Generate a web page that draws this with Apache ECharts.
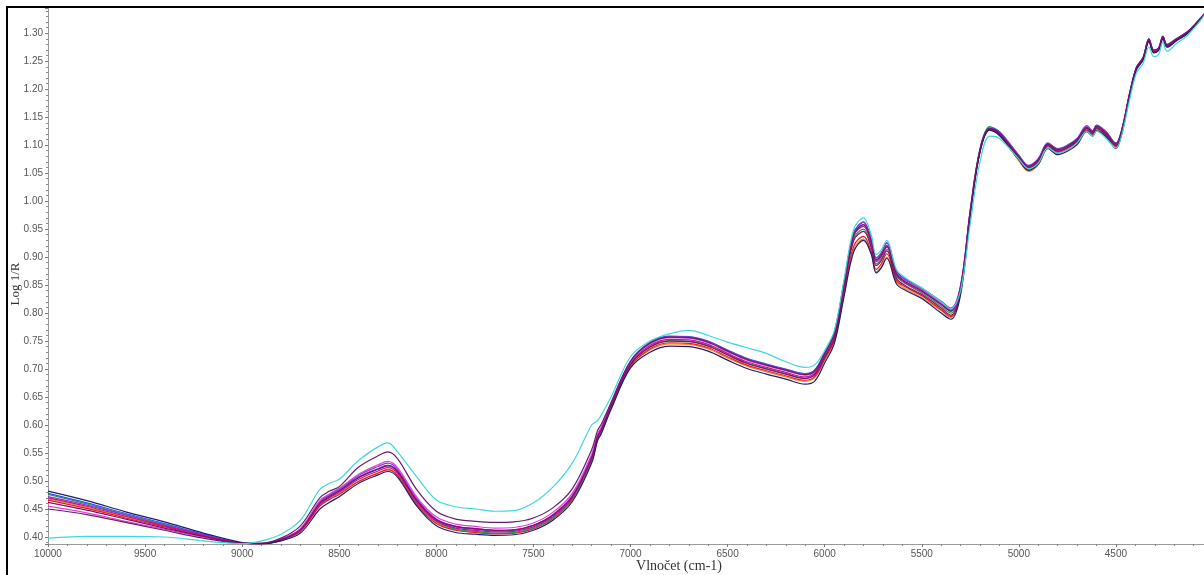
<!DOCTYPE html>
<html>
<head>
<meta charset="utf-8">
<script src="https://cdn.jsdelivr.net/npm/echarts@6/dist/echarts.min.js"></script>
<style>
  html, body { margin: 0; padding: 0; background: #fff; }
  #chart { width: 1204px; height: 575px; }
</style>
</head>
<body>
<div id="chart"></div>
<script>
// vlnočty (cm-1), stejné pro všechna spektra
var wavenumbers = [
    10000, 9800, 9600, 9400, 9200, 9000, 8900, 8800, 8700, 8600,
    8550, 8500, 8400, 8300, 8250, 8200, 8100, 8000, 7900, 7800,
    7700, 7600, 7500, 7400, 7300, 7200, 7170, 7150, 7100, 7000,
    6900, 6800, 6700, 6600, 6500, 6400, 6300, 6200, 6100, 6050,
    6000, 5950, 5900, 5850, 5800, 5760, 5735, 5710, 5680, 5630,
    5580, 5500, 5400, 5350, 5300, 5250, 5200, 5150, 5100, 5000,
    4950, 4900, 4850, 4800, 4750, 4700, 4650, 4620, 4600, 4550,
    4500, 4470, 4430, 4395, 4360, 4330, 4305, 4280, 4258, 4237,
    4186, 4135, 4083, 4045
];

var spCyan = [
    0.398, 0.401, 0.401, 0.400, 0.393, 0.388, 0.393, 0.405, 0.430, 0.485,
    0.496, 0.503, 0.537, 0.561, 0.568, 0.552, 0.507, 0.466, 0.454, 0.450,
    0.446, 0.447, 0.461, 0.489, 0.532, 0.600, 0.608, 0.618, 0.650, 0.722,
    0.750, 0.763, 0.769, 0.760, 0.748, 0.738, 0.728, 0.713, 0.703, 0.708,
    0.733, 0.769, 0.860, 0.950, 0.970, 0.940, 0.905, 0.912, 0.930, 0.878,
    0.862, 0.845, 0.820, 0.808, 0.840, 0.960, 1.070, 1.116, 1.112, 1.075,
    1.058, 1.068, 1.095, 1.086, 1.092, 1.104, 1.124, 1.116, 1.125, 1.112,
    1.095, 1.118, 1.180, 1.228, 1.246, 1.275, 1.258, 1.262, 1.284, 1.268,
    1.282, 1.295, 1.315, 1.332
];

var spPurple = [
    0.450, 0.440, 0.426, 0.412, 0.398, 0.389, 0.389, 0.398, 0.420, 0.470,
    0.482, 0.490, 0.525, 0.545, 0.552, 0.540, 0.484, 0.446, 0.432, 0.428,
    0.426, 0.427, 0.434, 0.452, 0.486, 0.556, 0.590, 0.602, 0.640, 0.714,
    0.746, 0.757, 0.756, 0.748, 0.732, 0.717, 0.707, 0.698, 0.690, 0.697,
    0.728, 0.764, 0.853, 0.940, 0.958, 0.928, 0.895, 0.903, 0.920, 0.870,
    0.855, 0.840, 0.816, 0.804, 0.846, 0.982, 1.092, 1.130, 1.122, 1.080,
    1.062, 1.074, 1.102, 1.092, 1.098, 1.110, 1.132, 1.124, 1.134, 1.122,
    1.102, 1.127, 1.192, 1.239, 1.257, 1.290, 1.270, 1.274, 1.295, 1.280,
    1.291, 1.302, 1.320, 1.335
];

var spNavy = [
    0.482, 0.465, 0.445, 0.427, 0.407, 0.390, 0.388, 0.393, 0.407, 0.450,
    0.462, 0.472, 0.496, 0.511, 0.517, 0.507, 0.455, 0.420, 0.408, 0.405,
    0.403, 0.404, 0.412, 0.430, 0.463, 0.532, 0.572, 0.585, 0.628, 0.702,
    0.730, 0.741, 0.740, 0.732, 0.716, 0.701, 0.691, 0.682, 0.673, 0.679,
    0.711, 0.746, 0.830, 0.910, 0.930, 0.905, 0.872, 0.880, 0.898, 0.852,
    0.840, 0.826, 0.800, 0.789, 0.833, 0.975, 1.088, 1.127, 1.117, 1.074,
    1.055, 1.066, 1.094, 1.083, 1.089, 1.101, 1.124, 1.116, 1.126, 1.115,
    1.094, 1.120, 1.186, 1.234, 1.252, 1.285, 1.265, 1.269, 1.290, 1.275,
    1.287, 1.298, 1.317, 1.333
];

var spMagenta = [
    0.470, 0.455, 0.437, 0.420, 0.403, 0.389, 0.388, 0.395, 0.412, 0.458,
    0.470, 0.480, 0.503, 0.518, 0.524, 0.514, 0.462, 0.428, 0.416, 0.412,
    0.409, 0.410, 0.418, 0.436, 0.470, 0.540, 0.578, 0.592, 0.635, 0.710,
    0.742, 0.753, 0.752, 0.744, 0.728, 0.713, 0.703, 0.694, 0.686, 0.693,
    0.726, 0.762, 0.850, 0.938, 0.955, 0.925, 0.892, 0.900, 0.918, 0.868,
    0.853, 0.838, 0.815, 0.803, 0.845, 0.980, 1.090, 1.128, 1.120, 1.078,
    1.060, 1.072, 1.100, 1.090, 1.096, 1.108, 1.130, 1.122, 1.132, 1.120,
    1.100, 1.125, 1.190, 1.237, 1.255, 1.288, 1.268, 1.272, 1.293, 1.278,
    1.289, 1.300, 1.318, 1.333
];

var spBlue = [
    0.478, 0.461, 0.442, 0.424, 0.405, 0.389, 0.388, 0.396, 0.414, 0.462,
    0.474, 0.484, 0.507, 0.522, 0.528, 0.518, 0.466, 0.431, 0.418, 0.414,
    0.411, 0.412, 0.420, 0.439, 0.473, 0.543, 0.580, 0.594, 0.638, 0.714,
    0.748, 0.759, 0.758, 0.750, 0.734, 0.719, 0.709, 0.700, 0.692, 0.699,
    0.730, 0.766, 0.855, 0.942, 0.962, 0.932, 0.898, 0.906, 0.925, 0.875,
    0.860, 0.845, 0.821, 0.809, 0.850, 0.984, 1.092, 1.131, 1.124, 1.082,
    1.064, 1.076, 1.104, 1.094, 1.100, 1.112, 1.135, 1.126, 1.136, 1.124,
    1.104, 1.128, 1.192, 1.238, 1.256, 1.290, 1.270, 1.273, 1.294, 1.279,
    1.290, 1.301, 1.319, 1.334
];

var spGreen = [
    0.476, 0.459, 0.440, 0.422, 0.404, 0.389, 0.388, 0.395, 0.413, 0.462,
    0.474, 0.484, 0.507, 0.522, 0.528, 0.517, 0.464, 0.428, 0.414, 0.410,
    0.407, 0.408, 0.416, 0.434, 0.468, 0.538, 0.576, 0.590, 0.633, 0.708,
    0.740, 0.751, 0.750, 0.742, 0.726, 0.711, 0.701, 0.692, 0.684, 0.691,
    0.723, 0.759, 0.848, 0.934, 0.950, 0.920, 0.888, 0.896, 0.914, 0.866,
    0.852, 0.836, 0.812, 0.800, 0.843, 0.985, 1.094, 1.133, 1.124, 1.081,
    1.062, 1.073, 1.101, 1.090, 1.096, 1.107, 1.129, 1.121, 1.131, 1.119,
    1.099, 1.124, 1.189, 1.236, 1.254, 1.287, 1.267, 1.271, 1.292, 1.277,
    1.288, 1.299, 1.318, 1.333
];

var spRed = [
    0.466, 0.451, 0.434, 0.418, 0.402, 0.389, 0.388, 0.394, 0.410, 0.455,
    0.467, 0.476, 0.499, 0.514, 0.520, 0.510, 0.458, 0.424, 0.412, 0.408,
    0.406, 0.407, 0.415, 0.433, 0.467, 0.536, 0.575, 0.589, 0.631, 0.705,
    0.736, 0.747, 0.746, 0.738, 0.722, 0.707, 0.697, 0.688, 0.680, 0.687,
    0.718, 0.752, 0.838, 0.920, 0.937, 0.910, 0.878, 0.887, 0.906, 0.858,
    0.846, 0.831, 0.806, 0.794, 0.838, 0.978, 1.089, 1.128, 1.119, 1.076,
    1.057, 1.069, 1.097, 1.087, 1.093, 1.105, 1.127, 1.119, 1.129, 1.117,
    1.097, 1.122, 1.188, 1.236, 1.254, 1.286, 1.266, 1.270, 1.291, 1.276,
    1.288, 1.299, 1.317, 1.333
];

var spOrange = [
    0.468, 0.453, 0.436, 0.419, 0.403, 0.389, 0.388, 0.394, 0.411, 0.456,
    0.468, 0.478, 0.500, 0.515, 0.521, 0.511, 0.460, 0.426, 0.413, 0.409,
    0.406, 0.407, 0.415, 0.433, 0.466, 0.535, 0.574, 0.588, 0.630, 0.704,
    0.734, 0.745, 0.744, 0.736, 0.720, 0.705, 0.695, 0.686, 0.678, 0.685,
    0.716, 0.749, 0.833, 0.915, 0.932, 0.906, 0.874, 0.882, 0.900, 0.855,
    0.843, 0.828, 0.804, 0.792, 0.836, 0.976, 1.088, 1.128, 1.118, 1.072,
    1.053, 1.065, 1.094, 1.085, 1.091, 1.103, 1.125, 1.117, 1.127, 1.116,
    1.096, 1.121, 1.187, 1.235, 1.253, 1.286, 1.265, 1.270, 1.291, 1.276,
    1.288, 1.299, 1.317, 1.333
];

var spViolet = [
    0.472, 0.457, 0.439, 0.421, 0.404, 0.389, 0.388, 0.396, 0.414, 0.463,
    0.476, 0.486, 0.510, 0.526, 0.532, 0.521, 0.468, 0.432, 0.419, 0.415,
    0.412, 0.413, 0.421, 0.440, 0.474, 0.545, 0.582, 0.595, 0.639, 0.714,
    0.747, 0.758, 0.757, 0.749, 0.733, 0.718, 0.708, 0.699, 0.691, 0.698,
    0.729, 0.766, 0.856, 0.944, 0.963, 0.933, 0.899, 0.907, 0.926, 0.874,
    0.858, 0.843, 0.819, 0.807, 0.848, 0.982, 1.091, 1.130, 1.123, 1.081,
    1.063, 1.075, 1.103, 1.093, 1.099, 1.111, 1.134, 1.125, 1.135, 1.123,
    1.103, 1.127, 1.191, 1.238, 1.256, 1.289, 1.269, 1.273, 1.294, 1.279,
    1.290, 1.301, 1.319, 1.334
];

var spPink = [
    0.455, 0.443, 0.428, 0.414, 0.400, 0.389, 0.388, 0.396, 0.415, 0.465,
    0.477, 0.487, 0.512, 0.529, 0.535, 0.524, 0.471, 0.436, 0.423, 0.419,
    0.416, 0.417, 0.425, 0.444, 0.478, 0.548, 0.584, 0.597, 0.640, 0.713,
    0.745, 0.756, 0.755, 0.747, 0.731, 0.716, 0.706, 0.697, 0.689, 0.696,
    0.727, 0.763, 0.852, 0.940, 0.958, 0.928, 0.894, 0.902, 0.921, 0.871,
    0.856, 0.841, 0.818, 0.806, 0.847, 0.982, 1.091, 1.130, 1.122, 1.080,
    1.062, 1.074, 1.102, 1.092, 1.098, 1.110, 1.133, 1.124, 1.134, 1.122,
    1.102, 1.126, 1.191, 1.238, 1.256, 1.289, 1.269, 1.273, 1.294, 1.279,
    1.290, 1.301, 1.319, 1.334
];

var spDarkMagenta = [
    0.462, 0.448, 0.432, 0.416, 0.401, 0.389, 0.388, 0.395, 0.413, 0.460,
    0.472, 0.482, 0.506, 0.521, 0.527, 0.517, 0.465, 0.431, 0.419, 0.415,
    0.412, 0.413, 0.421, 0.439, 0.472, 0.542, 0.579, 0.592, 0.634, 0.708,
    0.739, 0.750, 0.749, 0.741, 0.725, 0.710, 0.700, 0.691, 0.683, 0.690,
    0.721, 0.756, 0.844, 0.930, 0.946, 0.917, 0.885, 0.893, 0.911, 0.862,
    0.848, 0.833, 0.809, 0.796, 0.840, 0.978, 1.089, 1.129, 1.120, 1.078,
    1.059, 1.071, 1.099, 1.089, 1.095, 1.107, 1.130, 1.121, 1.131, 1.119,
    1.099, 1.124, 1.189, 1.236, 1.254, 1.287, 1.267, 1.271, 1.292, 1.277,
    1.289, 1.300, 1.318, 1.333
];

var spectra = [
    { name: 'S1',  color: '#f08a24', values: spOrange },
    { name: 'S2',  color: '#dc2020', values: spRed },
    { name: 'S3',  color: '#22a04a', values: spGreen },
    { name: 'S4',  color: '#3a4ee0', values: spBlue },
    { name: 'S5',  color: '#8a3cc8', values: spViolet },
    { name: 'S6',  color: '#e040d8', values: spPink },
    { name: 'S7',  color: '#c0109c', values: spMagenta },
    { name: 'S8',  color: '#8b0a6e', values: spDarkMagenta },
    { name: 'S9',  color: '#1c1c78', values: spNavy },
    { name: 'S10', color: '#6a1b6a', values: spPurple },
    { name: 'S11', color: '#3fd8d8', values: spCyan }
];

var chart = echarts.init(document.getElementById('chart'));

var series = [];
for (var s = 0; s < spectra.length; s++) {
    var sp = spectra[s];
    var data = [];
    for (var i = 0; i < wavenumbers.length; i++) {
        data.push([wavenumbers[i], sp.values[i]]);
    }
    series.push({
        name: sp.name,
        type: 'line',
        data: data,
        smooth: 0.35,
        showSymbol: false,
        symbol: 'none',
        lineStyle: { color: sp.color, width: 1.2 },
        emphasis: { disabled: true }
    });
}

var labelStyle = { color: '#555', fontSize: 10, fontFamily: 'Liberation Sans, Arial, sans-serif' };

var option = {
    animation: false,
    backgroundColor: '#fff',
    grid: { left: 48, right: -9, top: 8, bottom: 31, outerBoundsMode: 'none', containLabel: false },
    xAxis: {
        type: 'value',
        inverse: true,
        min: 4000,
        max: 10000,
        interval: 500,
        axisLine: { lineStyle: { color: '#999', width: 1 } },
        axisTick: { length: 3, lineStyle: { color: '#777' } },
        minorTick: { show: true, splitNumber: 5, length: 2, lineStyle: { color: '#888' } },
        splitLine: { show: false },
        axisLabel: Object.assign({
            margin: 5,
            formatter: function(v) { return v <= 4000 ? '' : String(v); }
        }, labelStyle)
    },
    yAxis: {
        type: 'value',
        min: 0.3875,
        max: 1.345,
        splitNumber: 19,
        axisLine: { show: true, lineStyle: { color: '#999', width: 1 } },
        axisTick: { show: true, length: 3, lineStyle: { color: '#777' } },
        minorTick: { show: true, splitNumber: 5, length: 2, lineStyle: { color: '#888' } },
        splitLine: { show: false },
        axisLabel: Object.assign({
            margin: 5,
            showMinLabel: false,
            showMaxLabel: false,
            formatter: function(v) { return v.toFixed(2); }
        }, labelStyle)
    },
    graphic: [
        {
            type: 'rect',
            shape: { x: 7, y: 7, width: 1210, height: 590 },
            style: { fill: 'none', stroke: '#000', lineWidth: 2 },
            silent: true,
            z: 100
        },
        {
            type: 'text',
            x: 679, y: 566,
            style: {
                text: 'Vlnočet (cm-1)',
                fill: '#333',
                font: '14px "Liberation Serif", "Times New Roman", serif',
                align: 'center',
                verticalAlign: 'middle'
            }
        },
        {
            type: 'text',
            x: 16, y: 284,
            rotation: Math.PI / 2,
            style: {
                text: 'Log 1/R',
                fill: '#333',
                font: '13px "Liberation Serif", "Times New Roman", serif',
                align: 'center',
                verticalAlign: 'middle'
            }
        }
    ],
    series: series
};

chart.setOption(option);
</script>
</body>
</html>
